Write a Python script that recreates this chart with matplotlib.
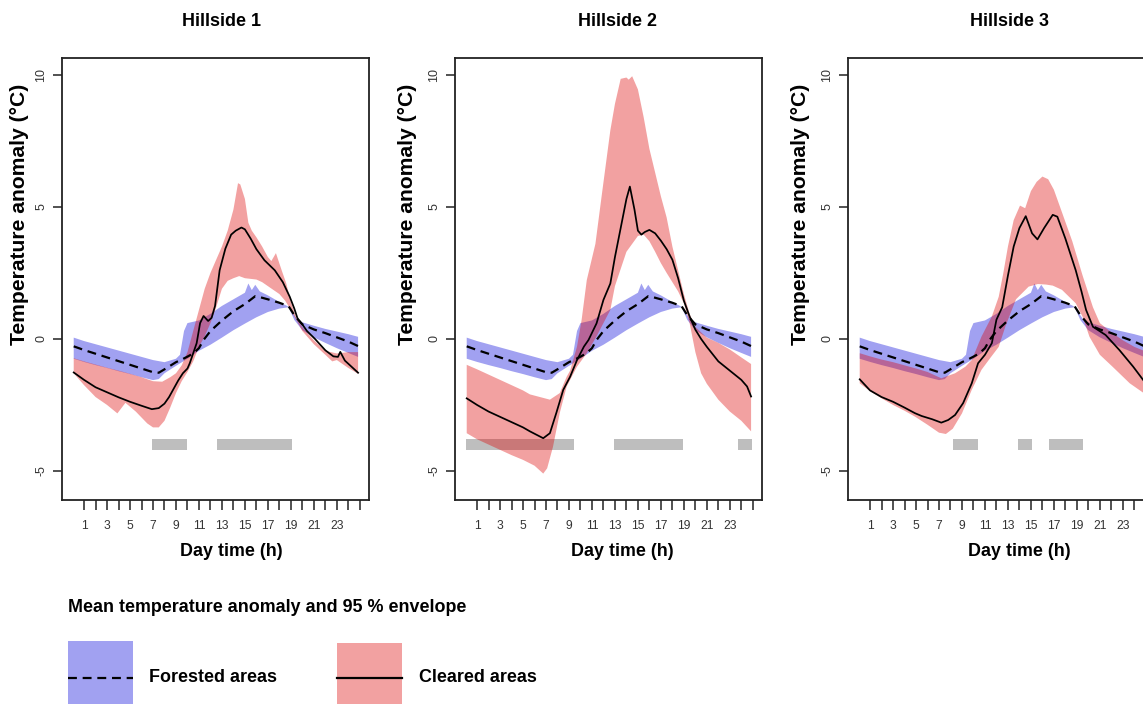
import numpy as np
import matplotlib
matplotlib.use("Agg")
import matplotlib.pyplot as plt
import matplotlib.font_manager as fm
from matplotlib.patches import Rectangle
from matplotlib.lines import Line2D

# ---------------- data ----------------
panel_titles = ["Hillside 1", "Hillside 2", "Hillside 3"]
hour_ticks = list(range(1, 26))
hour_labels = [str(h) if (h % 2 == 1 and h <= 23) else "" for h in hour_ticks]
y_ticks = [-5, 0, 5, 10]

# Forested areas (same reference in all panels)
forest_mean_x = [0.1, 1, 2, 3, 4, 5, 6, 7, 7.5, 8, 9, 9.6, 10, 10.5, 11, 11.4, 12, 13, 14, 15, 15.9, 16.5,
                 17, 18, 18.8, 19.3, 20, 21, 22, 23, 24, 24.85]
forest_mean = [-0.28, -0.42, -0.56, -0.70, -0.84, -0.98, -1.12, -1.26, -1.28, -1.15, -0.88, -0.76, -0.67,
               -0.55, -0.35, -0.04, 0.3, 0.7, 1.05, 1.32, 1.62, 1.56, 1.5, 1.37, 1.24, 0.9, 0.55, 0.36,
               0.22, 0.06, -0.1, -0.27]
forest_hi_x = [0.1, 1, 2, 3, 4, 5, 6, 7, 8, 9, 9.35, 9.7, 10, 11, 12, 13, 14, 15, 15.3, 15.6, 15.9, 16.3,
               17, 18, 18.8, 19.3, 19.6, 20, 21, 22, 23, 24, 24.85]
forest_hi = [0.05, -0.08, -0.2, -0.32, -0.44, -0.56, -0.68, -0.8, -0.88, -0.75, -0.6, 0.3, 0.6, 0.7, 0.95,
             1.25, 1.5, 1.75, 2.1, 1.85, 2.05, 1.8, 1.65, 1.4, 1.22, 0.9, 0.7, 0.63, 0.5, 0.38, 0.28,
             0.18, 0.08]
forest_lo_x = [0.1, 1, 2, 3, 4, 5, 6, 7, 7.5, 8, 9, 10, 11, 12, 13, 14, 15, 16, 17, 18, 18.8, 19.3, 20,
               21, 22, 23, 24, 24.85]
forest_lo = [-0.75, -0.87, -0.99, -1.1, -1.22, -1.33, -1.45, -1.56, -1.52, -1.3, -1.02, -0.75, -0.45,
             -0.22, 0.05, 0.33, 0.58, 0.82, 1.02, 1.15, 1.2, 0.72, 0.33, 0.06, -0.15, -0.35, -0.53, -0.68]

# Hillside 1 - cleared areas
p1_mean_x = [0.1, 1, 2, 3, 4, 5, 6, 6.9, 7.5, 8, 8.4, 9.2, 9.6, 10, 10.2, 10.5, 10.8, 11.1, 11.4, 11.8,
             12.1, 12.4, 12.8, 13.3, 13.8, 14.2, 14.7, 15.0, 15.5, 16.0, 16.7, 17.6, 18.3, 18.9, 19.3,
             19.6, 20.0, 20.4, 21.1, 22.0, 22.7, 23.1, 23.3, 23.7, 24.85]
p1_mean = [-1.27, -1.55, -1.83, -2.02, -2.21, -2.38, -2.53, -2.66, -2.62, -2.45, -2.2, -1.57, -1.3, -1.12,
           -0.92, -0.54, -0.16, 0.6, 0.87, 0.68, 0.8, 1.25, 2.6, 3.42, 3.95, 4.1, 4.22, 4.15, 3.8, 3.4,
           2.98, 2.6, 2.15, 1.6, 1.15, 0.75, 0.55, 0.3, 0.0, -0.43, -0.66, -0.68, -0.49, -0.82, -1.28]
p1_hi_x = [0.1, 1, 2, 3, 4, 5, 6, 7, 7.8, 8.5, 9, 9.5, 10, 10.5, 11, 11.5, 12, 12.4, 13, 13.5, 14, 14.4,
           14.6, 15, 15.3, 15.6, 16, 16.5, 17, 17.3, 17.7, 18.2, 18.6, 19, 19.5, 20, 21, 22, 23, 24, 24.85]
p1_hi = [-0.73, -0.85, -0.97, -1.09, -1.2, -1.32, -1.45, -1.6, -1.62, -1.45, -1.3, -1.0, -0.5, 0.3, 1.1,
         1.9, 2.5, 2.9, 3.5, 4.1, 4.9, 5.9, 5.85, 5.3, 4.4, 4.1, 3.85, 3.5, 3.1, 2.95, 3.25, 2.6, 2.1,
         1.4, 0.75, 0.45, -0.05, -0.45, -0.55, -0.5, -0.5]
p1_lo_x = [0.1, 1, 2, 3, 3.9, 4.6, 5.5, 6.5, 7, 7.5, 8, 8.5, 9, 9.5, 10, 10.5, 11, 11.5, 12, 12.5, 13,
           13.5, 14, 14.5, 15, 16, 16.5, 17, 17.5, 18, 18.5, 19, 19.5, 20, 21, 22, 22.6, 23, 24, 24.85]
p1_lo = [-1.3, -1.75, -2.2, -2.5, -2.82, -2.42, -2.75, -3.2, -3.35, -3.35, -3.1, -2.6, -2.05, -1.6, -1.25,
         -0.85, -0.3, 0.1, 0.6, 1.2, 1.9, 2.2, 2.3, 2.38, 2.3, 2.25, 2.15, 2.0, 1.85, 1.7, 1.45, 1.1,
         0.7, 0.3, -0.2, -0.6, -0.85, -0.8, -1.1, -1.32]
p1_bar_start = [6.9, 12.6]
p1_bar_end = [10.0, 19.1]

# Hillside 2 - cleared areas
p2_mean_x = [0.1, 1, 2, 3, 4, 5, 5.6, 6.76, 7.34, 7.9, 8.5, 9.1, 9.7, 10.3, 10.7, 11.4, 12.0, 12.6, 13.0,
             13.5, 14.0, 14.3, 14.7, 15.0, 15.3, 15.6, 16.0, 16.5, 17.0, 17.5, 18.0, 18.5, 19.0, 19.5,
             20.0, 20.5, 21.0, 22.0, 23.0, 24.0, 24.5, 24.85]
p2_mean = [-2.25, -2.5, -2.75, -2.95, -3.15, -3.35, -3.5, -3.76, -3.57, -2.8, -1.93, -1.43, -0.8, -0.29,
           -0.04, 0.59, 1.48, 2.1, 3.1, 4.2, 5.3, 5.77, 4.9, 4.1, 3.95, 4.05, 4.13, 4.0, 3.72, 3.4, 3.0,
           2.3, 1.45, 0.85, 0.35, 0.0, -0.3, -0.85, -1.2, -1.55, -1.8, -2.18]
p2_hi_x = [0.1, 1, 2, 3, 4, 5, 5.6, 7.34, 8.2, 8.8, 9.1, 9.7, 10.1, 10.55, 11.3, 11.9, 12.6, 13.0, 13.5,
           14.0, 14.2, 14.5, 15.0, 15.5, 16.0, 16.5, 17.0, 17.5, 18.0, 18.5, 19.0, 19.5, 20.0, 21.0,
           22.0, 23.0, 24.0, 24.85]
p2_hi = [-0.98, -1.15, -1.35, -1.55, -1.75, -1.95, -2.1, -2.3, -2.05, -1.43, -1.2, -0.29, 0.72, 2.23, 3.6,
         5.6, 7.9, 8.9, 9.85, 9.9, 9.82, 9.95, 9.45, 8.4, 7.2, 6.3, 5.4, 4.6, 3.5, 2.6, 1.7, 0.95, 0.45,
         0.05, -0.15, -0.4, -0.7, -0.95]
p2_lo_x = [0.1, 1, 2, 3, 4, 5, 6, 6.76, 7.1, 7.6, 8.2, 8.8, 9.7, 10.55, 11.4, 12.6, 13.0, 14.0, 15.0,
           15.5, 16.0, 16.5, 17.0, 17.5, 18.0, 18.5, 19.0, 19.5, 20.0, 20.5, 21.0, 22.0, 23.0, 24.0, 24.85]
p2_lo = [-3.57, -3.8, -4.0, -4.2, -4.4, -4.58, -4.8, -5.1, -4.9, -4.1, -2.8, -1.8, -1.05, -0.54, 0.1,
         1.1, 2.0, 3.3, 3.9, 3.95, 3.7, 3.3, 2.87, 2.5, 2.15, 1.8, 1.35, 0.6, -0.5, -1.3, -1.7, -2.3,
         -2.75, -3.1, -3.5]
p2_bar_start = [0.07, 12.93, 23.7]
p2_bar_end = [9.47, 18.93, 24.9]

# Hillside 3 - cleared areas
p3_mean_x = [0.1, 1, 2, 3, 4, 4.9, 5.5, 6.4, 7.2, 7.8, 8.4, 9.1, 9.85, 10.4, 11.0, 11.6, 12.0, 12.5, 13.0,
             13.5, 14.0, 14.55, 15.1, 15.57, 16.15, 16.9, 17.3, 18.0, 18.9, 19.4, 19.8, 20.4, 21.5, 22.7,
             23.9, 24.85]
p3_mean = [-1.53, -1.95, -2.2, -2.38, -2.6, -2.81, -2.92, -3.04, -3.17, -3.07, -2.88, -2.43, -1.68, -0.92,
           -0.6, -0.16, 0.73, 1.2, 2.4, 3.5, 4.2, 4.65, 4.0, 3.77, 4.2, 4.7, 4.63, 3.8, 2.6, 1.8, 1.1,
           0.46, 0.15, -0.42, -1.05, -1.6]
p3_hi_x = [0.1, 1, 2, 3, 4, 5, 6, 7.2, 8.4, 9.3, 9.85, 10.7, 11.6, 12.2, 12.6, 13, 13.5, 13.9, 14.05,
           14.5, 15, 15.5, 16, 16.5, 17, 17.7, 18.6, 19.5, 20.4, 21, 22, 23, 24, 24.85]
p3_hi = [-0.54, -0.66, -0.78, -0.88, -1.0, -1.12, -1.25, -1.49, -1.3, -1.05, -0.8, 0.09, 0.85, 1.6, 2.5,
         3.5, 4.5, 4.9, 5.05, 4.95, 5.6, 5.95, 6.15, 6.05, 5.65, 4.8, 3.7, 2.4, 1.2, 0.6, 0.25, -0.05,
         -0.3, -0.45]
p3_lo_x = [0.1, 1, 2, 3, 4, 4.9, 6, 7, 7.6, 8.2, 9.0, 9.85, 10.7, 11.5, 12.2, 12.8, 13.7, 14.8, 15.6,
           16.3, 16.9, 17.7, 18.9, 19.5, 20.1, 21.0, 22.1, 23.6, 24.85]
p3_lo = [-1.68, -1.98, -2.25, -2.5, -2.72, -2.94, -3.25, -3.55, -3.6, -3.4, -2.82, -1.93, -1.17, -0.7,
         -0.3, 0.5, 1.5, 1.98, 2.08, 2.06, 2.02, 1.86, 1.35, 0.84, 0.08, -0.6, -1.05, -1.68, -2.06]
p3_bar_start = [8.26, 13.9, 16.6]
p3_bar_end = [10.42, 15.1, 19.5]

legend_title = "Mean temperature anomaly and 95 % envelope"
legend_labels = ["Forested areas", "Cleared areas"]

# ---------------- style ----------------
BLUE = (0.0, 0.0, 0.85, 0.37)
RED = (0.87, 0.0, 0.0, 0.37)
GRAY = "#bebebe"

avail = {f.name for f in fm.fontManager.ttflist}
if "Liberation Sans Narrow" in avail:
    NARROW = ["Liberation Sans Narrow", "DejaVu Sans"]
    k = 1.0
else:
    NARROW = ["Liberation Sans", "DejaVu Sans"]
    k = 0.84
REG = ["Liberation Sans", "DejaVu Sans"]

W, H = 1143, 704
fig = plt.figure(figsize=(W / 100, H / 100), dpi=100)


def fx(px):
    return px / W


def fy(py):
    return 1 - py / H


panel_left = [62, 455, 848]
title_x = [222, 617, 1010]
xlabel_x = [231, 622, 1019]
ylabel_x = [20, 407, 800]

panels = [
    (p1_mean_x, p1_mean, p1_hi_x, p1_hi, p1_lo_x, p1_lo, p1_bar_start, p1_bar_end),
    (p2_mean_x, p2_mean, p2_hi_x, p2_hi, p2_lo_x, p2_lo, p2_bar_start, p2_bar_end),
    (p3_mean_x, p3_mean, p3_hi_x, p3_hi, p3_lo_x, p3_lo, p3_bar_start, p3_bar_end),
]

for i, (mx, mv, hx, hv, lx, lv, bs, be) in enumerate(panels):
    ax = fig.add_axes([fx(panel_left[i]), fy(500), 307 / W, 442 / H])
    ax.set_xlim(-0.92, 25.8)
    ax.set_ylim(-6.1, 10.64)

    # significance bars
    ax.broken_barh([(s, e - s) for s, e in zip(bs, be)], (-4.2, 0.4),
                   facecolors=GRAY, edgecolor="none", zorder=1)
    # forested envelope
    ax.fill(np.r_[forest_hi_x, forest_lo_x[::-1]], np.r_[forest_hi, forest_lo[::-1]],
            color=BLUE, lw=0, zorder=2)
    # cleared envelope
    ax.fill(np.r_[hx, lx[::-1]], np.r_[hv, lv[::-1]], color=RED, lw=0, zorder=3)
    # means
    ax.plot(forest_mean_x, forest_mean, color="black", lw=1.6, ls=(0, (4, 2.6)), zorder=4)
    ax.plot(mx, mv, color="black", lw=1.25, zorder=5)

    ax.set_xticks(hour_ticks)
    ax.set_xticklabels(hour_labels, family=NARROW, fontsize=10.3 * k, color="#333333")
    ax.set_yticks(y_ticks)
    ax.set_yticklabels([str(v) for v in y_ticks], family=REG, fontsize=9, color="#333333",
                       rotation=90, va="center")
    ax.tick_params(axis="x", length=7, width=1.1, pad=7.5, color="#222222")
    ax.tick_params(axis="y", length=6.5, width=1.1, pad=4, color="#222222")
    for sp in ax.spines.values():
        sp.set_linewidth(1.3)
        sp.set_color("#222222")

    fig.text(fx(title_x[i]), fy(22), panel_titles[i], ha="center", va="center",
             family=NARROW, fontsize=15.3 * k, fontweight="bold")
    fig.text(fx(xlabel_x[i]), fy(552), "Day time (h)", ha="center", va="center",
             family=NARROW, fontsize=15.3 * k, fontweight="bold")
    fig.text(fx(ylabel_x[i]), fy(214), "Temperature anomaly (°C)", ha="center", va="center",
             rotation=90, family=REG, fontsize=15.2, fontweight="bold")

# ---------------- legend ----------------
fig.text(fx(68), fy(608), legend_title, ha="left", va="center", family=NARROW,
         fontsize=15.3 * k, fontweight="bold")
fig.add_artist(Rectangle((fx(68), fy(712)), 65 / W, 71 / H, transform=fig.transFigure,
                         facecolor=BLUE, edgecolor="none"))
fig.add_artist(Rectangle((fx(337), fy(712)), 65 / W, 69 / H, transform=fig.transFigure,
                         facecolor=RED, edgecolor="none"))
fig.add_artist(Line2D([fx(68), fx(133)], [fy(678), fy(678)], transform=fig.transFigure,
                      color="black", lw=1.6, ls=(0, (4, 2.6))))
fig.add_artist(Line2D([fx(337), fx(402)], [fy(678), fy(678)], transform=fig.transFigure,
                      color="black", lw=1.6))
fig.text(fx(149), fy(677), legend_labels[0], ha="left", va="center", family=NARROW,
         fontsize=15.3 * k, fontweight="bold")
fig.text(fx(419), fy(677), legend_labels[1], ha="left", va="center", family=NARROW,
         fontsize=15.3 * k, fontweight="bold")

fig.savefig("out.png", dpi=100)
